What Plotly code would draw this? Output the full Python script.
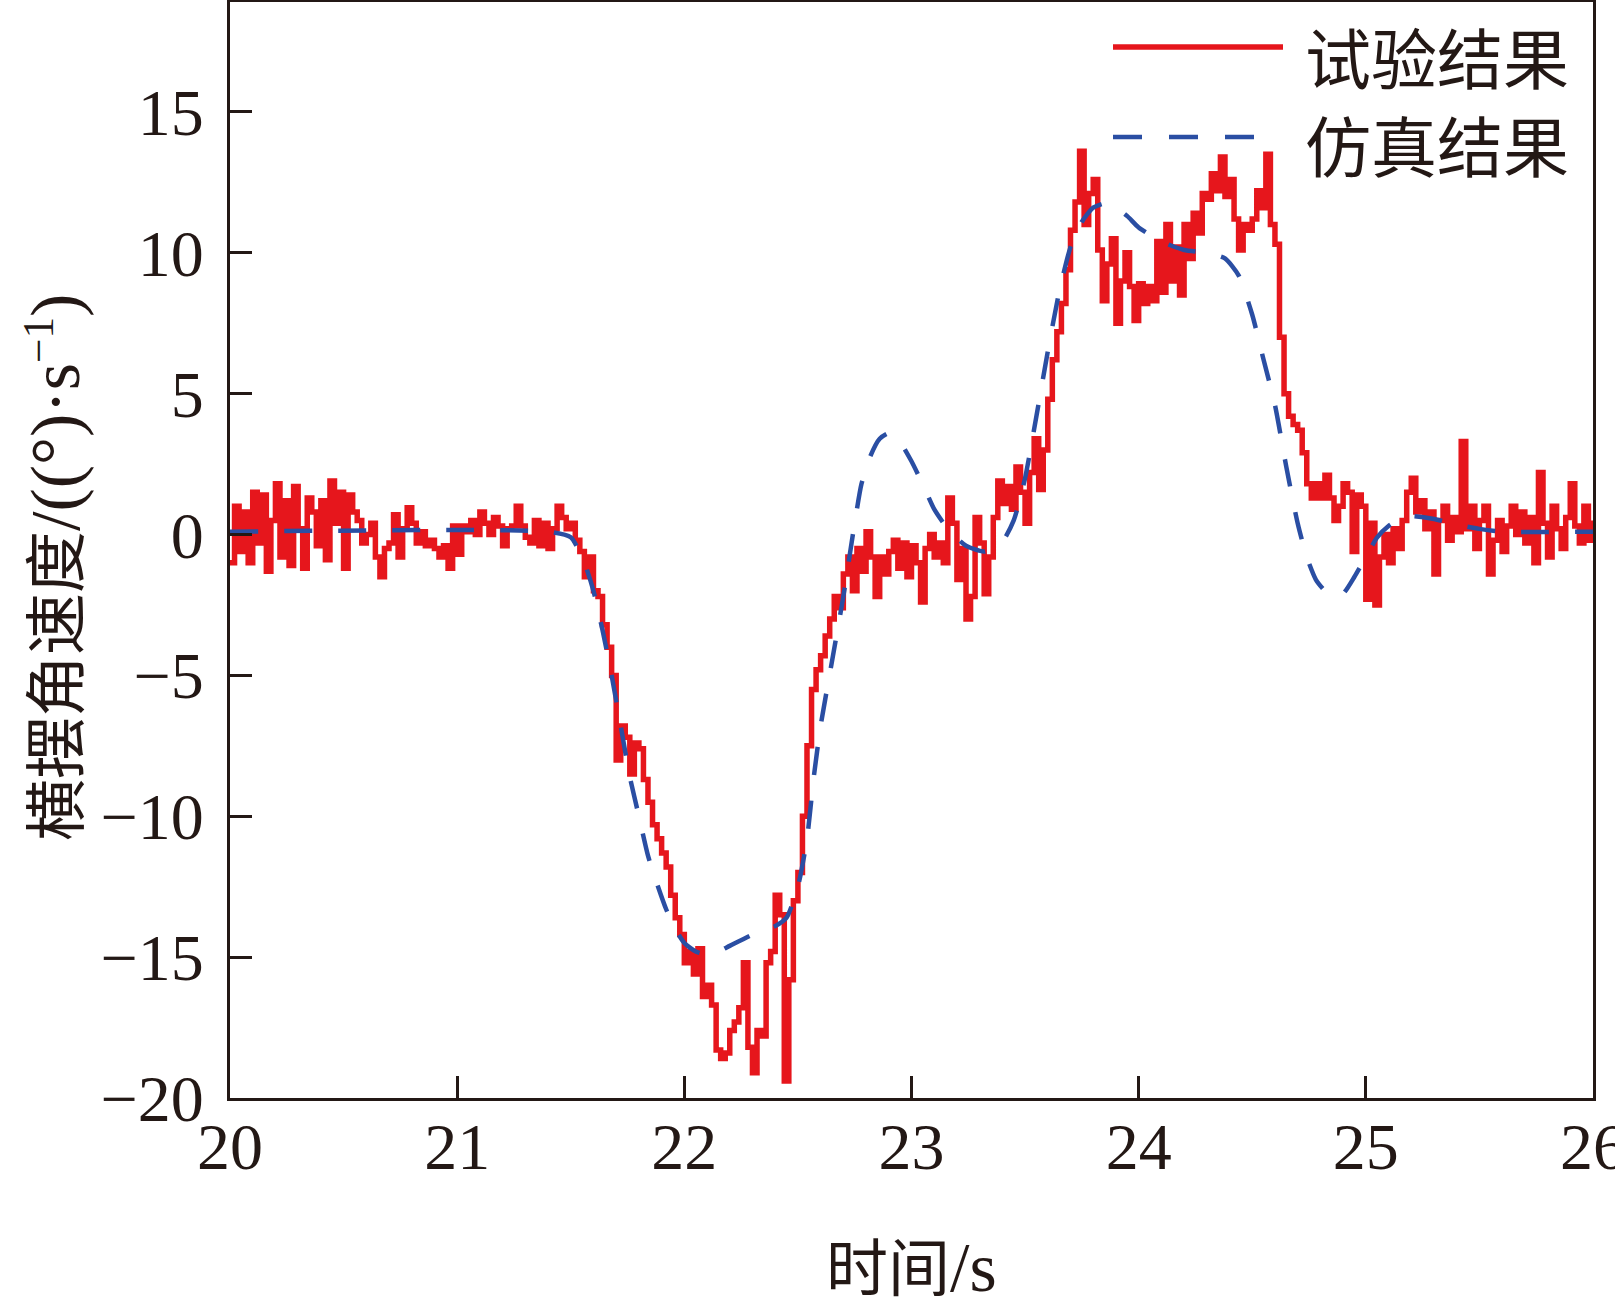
import numpy as np
import plotly.graph_objects as go

# ---- data ----
# Experimental result, sampled every 0.02 s from 20 s to 26 s
exp_values = [
    # 20.00 - 20.98
    -1.0, 1.0, -0.6, 0.8, -1.0, 1.5, -0.3, 1.4, -1.3, 0.5,
    1.8, -0.8, 1.2, -1.1, 1.7, 0.2, -1.2, 1.3, 0.8, -0.4,
    1.2, -0.9, 1.9, 0.4, 1.5, -1.2, 1.4, 0.8, 0.5, -0.3,
    0.0, 0.4, -0.8, -1.5, -0.5, -0.3, 0.7, -0.8, 0.2, 0.95,
    0.4, -0.3, 0.1, -0.4, -0.2, -0.5, -0.8, -0.4, -1.2, 0.3,
    # 21.00 - 21.98
    -0.7, 0.3, 0.1, 0.5, 0.0, 0.8, 0.4, 0.0, 0.6, 0.3,
    -0.4, 0.2, 0.3, 1.0, 0.3, -0.1, -0.3, 0.5, -0.4, 0.4,
    -0.5, 0.2, 1.0, 0.6, 0.2, 0.4, -0.2, -0.6, -1.5, -0.8,
    -2.0, -2.2, -3.2, -4.0, -5.0, -8.0, -6.8, -7.2, -8.5, -7.4,
    -7.6, -8.7, -9.5, -10.3, -10.8, -11.3, -11.8, -12.8, -13.6, -14.2,
    # 22.00 - 22.98
    -15.2, -14.8, -15.6, -14.7, -16.4, -16.0, -16.7, -18.3, -18.6, -18.4,
    -17.6, -17.3, -16.8, -15.2, -18.2, -19.1, -17.6, -17.8, -15.2, -14.8,
    -12.8, -13.5, -19.4, -15.8, -13.0, -12.0, -10.0, -7.5, -5.5, -4.8,
    -4.3, -3.6, -3.0, -2.2, -2.6, -1.4, -0.8, -2.0, -0.5, -1.3,
    0.1, -0.8, -2.2, -0.8, -1.4, -0.6, -0.2, -1.2, -0.3, -1.5,
    # 23.00 - 23.98
    -0.4, -1.0, -2.4, -0.5, 0.0, -0.8, -0.3, -1.0, 1.3, 0.4,
    -1.6, -0.5, -3.0, -2.2, 0.6, -0.3, -2.1, -0.8, 0.6, 1.9,
    1.1, 1.7, 0.9, 2.4, 1.5, 0.4, 2.2, 3.4, 1.6, 3.0,
    4.8, 6.2, 7.2, 8.2, 9.4, 10.8, 11.8, 13.6, 11.0, 12.1,
    12.6, 10.1, 8.3, 9.6, 10.5, 7.5, 9.0, 10.0, 8.8, 7.6,
    # 24.00 - 24.98
    8.9, 8.2, 8.8, 8.3, 10.4, 8.6, 11.0, 9.0, 10.2, 8.5,
    11.0, 9.8, 11.4, 10.7, 12.1, 11.9, 12.8, 12.2, 13.4, 12.0,
    12.6, 11.2, 10.1, 11.0, 10.8, 11.2, 12.2, 11.6, 13.5, 11.0,
    10.3, 7.0, 5.0, 4.2, 3.9, 3.7, 2.9, 1.8, 1.3, 1.8,
    1.3, 2.1, 1.3, 0.5, 1.0, 1.8, 1.5, -0.6, 1.4, 1.0,
    # 25.00 - 26.00
    -2.3, 0.4, -2.5, -0.8, 0.0, -1.0, 0.2, -0.5, 0.5, 1.5,
    2.0, 0.8, 1.2, 0.2, 0.8, -1.4, 0.5, 1.0, -0.2, 0.6,
    0.1, 3.3, 0.2, 1.0, -0.5, 0.5, 1.0, -1.4, -0.2, 0.5,
    -0.6, 0.3, 1.0, 0.0, 0.8, -0.3, 0.6, -1.0, 2.2, 0.4,
    -0.8, 1.0, 0.2, -0.5, 0.6, 1.8, 0.3, -0.3, 1.0, -0.2,
    0.5,
]
# sample instants of the test record (uniform 0.02 s grid)
exp_time = np.round(np.linspace(20.0, 26.0, len(exp_values)), 2)

# Simulation result
sim_time = [
    20.0, 21.4, 21.5, 21.56, 21.6, 21.64, 21.68, 21.72, 21.76, 21.8,
    21.84, 21.88, 21.92, 21.96, 22.0, 22.05, 22.1, 22.15, 22.2, 22.3,
    22.4, 22.45, 22.5, 22.54, 22.57, 22.6, 22.65, 22.7, 22.74, 22.78,
    22.82, 22.86, 22.9, 22.94, 23.0, 23.06, 23.1, 23.16, 23.24, 23.32,
    23.4, 23.45, 23.5, 23.55, 23.6, 23.65, 23.7, 23.75, 23.8, 23.85,
    23.9, 23.95, 24.0, 24.1, 24.2, 24.3, 24.38, 24.44, 24.5, 24.55,
    24.6, 24.65, 24.7, 24.74, 24.78, 24.82, 24.86, 24.9, 24.95, 25.0,
    25.05, 25.1, 25.15, 25.2, 25.3, 25.4, 25.5, 25.6, 26.0,
]
sim_values = [
    0.1, 0.1, -0.1, -1.0, -2.0, -3.4, -5.0, -6.8, -8.6, -10.0,
    -11.4, -12.4, -13.3, -14.0, -14.5, -14.8, -14.9, -14.8, -14.6, -14.2,
    -13.9, -13.6, -12.5, -10.8, -8.6, -6.8, -4.5, -2.2, -0.1, 1.8,
    2.8, 3.4, 3.6, 3.4, 2.6, 1.6, 0.9, 0.2, -0.4, -0.6,
    -0.25, 0.5, 2.0, 4.2, 6.5, 8.6, 10.2, 11.1, 11.6, 11.75,
    11.6, 11.3, 10.9, 10.4, 10.1, 10.0, 9.8, 9.2, 7.8, 6.2,
    4.6, 2.4, 0.4, -0.8, -1.6, -2.0, -2.2, -2.1, -1.5, -0.8,
    -0.1, 0.3, 0.55, 0.65, 0.55, 0.35, 0.2, 0.1, 0.1,
]

x_ticks = [20, 21, 22, 23, 24, 25, 26]
y_ticks = [-20, -15, -10, -5, 0, 5, 10, 15]
series_names = ["试验结果", "仿真结果"]
x_title = '时间<span style="font-size:70px">/s</span>'
y_title = ('横摆角速度<span style="font-size:70px">/((°)·s</span>'
           '<sup>−1</sup><span style="font-size:70px">)</span>')

# ---- styles ----
RED = "#e6161c"
BLUE = "#2a4ea3"
INK = "#231815"
SERIF = "Liberation Serif, Noto Sans CJK SC"
CJK = "Noto Sans CJK SC"

W, H = 1615, 1311
L, R, T, B = 230, 22, 2, 213
pw, ph = W - L - R, H - T - B


def px(xp):
    return (xp - L) / pw


def py(yp):
    return (H - B - yp) / ph


fig = go.Figure()
fig.add_trace(go.Scatter(
    x=exp_time, y=exp_values, mode="lines", name=series_names[0],
    line=dict(color=RED, width=5.5, shape="hv"), showlegend=False,
))
fig.add_trace(go.Scatter(
    x=sim_time, y=sim_values, mode="lines", name=series_names[1],
    line=dict(color=BLUE, width=4.5, dash="28px,26px", shape="spline", smoothing=0.6),
    showlegend=False,
))

axis_common = dict(
    showline=True, linecolor=INK, linewidth=3, mirror=True,
    ticks="inside", ticklen=22, tickwidth=3, tickcolor=INK,
    showgrid=False, zeroline=False, ticklabeloverflow="allow", automargin=False,
    tickfont=dict(family=SERIF, size=66, color=INK),
)
fig.update_xaxes(range=[20, 26.0001], tickvals=x_ticks, ticktext=[str(v) for v in x_ticks],
                 ticklabelstandoff=-11, **axis_common)
fig.update_yaxes(range=[-20, 18.9], tickvals=y_ticks, ticklabelstandoff=10, **axis_common)

# legend drawn manually to match long line samples
fig.add_shape(type="line", xref="paper", yref="paper",
              x0=px(1113), x1=px(1283), y0=py(47), y1=py(47),
              line=dict(color=RED, width=5.5))
fig.add_shape(type="line", xref="paper", yref="paper",
              x0=px(1113), x1=px(1257), y0=py(137), y1=py(137),
              line=dict(color=BLUE, width=4.5, dash="29px,27px"))
fig.add_annotation(text=series_names[0], xref="paper", yref="paper",
                   x=px(1303), y=py(55), xanchor="left", yanchor="middle",
                   showarrow=False, font=dict(family=CJK, size=66, color=INK))
fig.add_annotation(text=series_names[1], xref="paper", yref="paper",
                   x=px(1303), y=py(143), xanchor="left", yanchor="middle",
                   showarrow=False, font=dict(family=CJK, size=66, color=INK))

# axis titles
fig.add_annotation(text=x_title, xref="paper", yref="paper",
                   x=px(911), y=py(1267), xanchor="center", yanchor="middle",
                   showarrow=False, font=dict(family=SERIF, size=62, color=INK))
fig.add_annotation(text=y_title, xref="paper", yref="paper",
                   x=px(54), y=py(568), xanchor="center", yanchor="middle",
                   textangle=-90, showarrow=False,
                   font=dict(family=SERIF, size=62, color=INK))

fig.update_layout(
    width=W, height=H,
    margin=dict(l=L, r=R, t=T, b=B, pad=0, autoexpand=False),
    paper_bgcolor="white", plot_bgcolor="white",
    showlegend=False,
)

fig.write_html(
    "out.html",
    config={"displayModeBar": False},
    post_script="document.body.style.margin='0';document.body.style.overflow='hidden';",
)
